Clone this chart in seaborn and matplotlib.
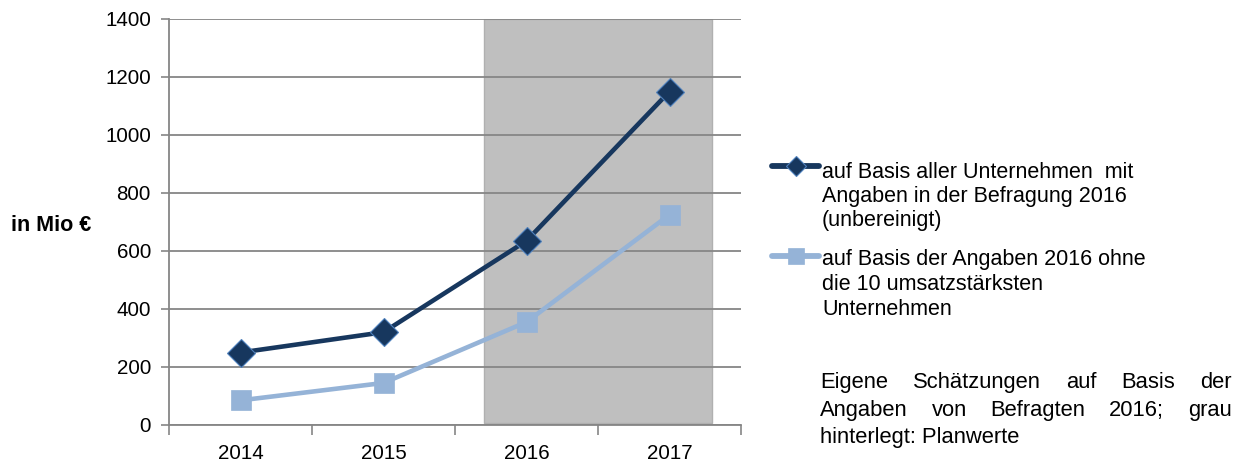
import matplotlib
matplotlib.use("Agg")
import matplotlib.pyplot as plt
import seaborn as sns
import pandas as pd
from matplotlib.ticker import FixedLocator, NullFormatter

years = ["2014", "2015", "2016", "2017"]
alle_unternehmen = [250, 320, 635, 1150]
ohne_top10 = [85, 145, 355, 725]
y_ticks = [0, 200, 400, 600, 800, 1000, 1200, 1400]
label_alle = ["auf Basis aller Unternehmen  mit",
              "Angaben in der Befragung 2016",
              "(unbereinigt)"]
label_ohne = ["auf Basis der Angaben 2016 ohne",
              "die 10 umsatzstärksten",
              "Unternehmen"]
note_lines = ["Eigene Schätzungen auf Basis der",
              "Angaben von Befragten 2016; grau",
              "hinterlegt: Planwerte"]

sns.set_theme(style="white")
plt.rcParams["font.family"] = ["Liberation Sans", "DejaVu Sans"]
plt.rcParams["text.color"] = "black"

W, H = 1240, 462
fig = plt.figure(figsize=(W / 100, H / 100), dpi=100)
ax = fig.add_axes([169 / W, 1 - 425 / H, (741 - 169) / W, (425 - 19) / H])

pos = list(range(len(years)))
df = pd.DataFrame({"pos": pos * 2,
                   "wert": alle_unternehmen + ohne_top10,
                   "serie": ["alle"] * 4 + ["ohne"] * 4})

dark = "#17375E"
light = "#95B3D7"

# planned values shaded in grey
ax.axvspan(1.70, 3.30, ymin=0.006, ymax=1.0, facecolor="#BFBFBF",
           edgecolor="#B0B0B0", linewidth=1.0, zorder=0)

sns.lineplot(data=df[df.serie == "alle"], x="pos", y="wert", ax=ax,
             color=dark, linewidth=3.3, marker="D", markersize=14,
             markeredgecolor="#4F81BD", markeredgewidth=0.8, zorder=4,
             label=label_alle[0])
sns.lineplot(data=df[df.serie == "ohne"], x="pos", y="wert", ax=ax,
             color=light, linewidth=3.3, marker="s", markersize=15,
             markeredgecolor=light, markeredgewidth=0.5, zorder=3,
             label=label_ohne[0])

ax.set_xlim(-0.5, 3.5)
ax.set_ylim(0, 1400)
ax.set_yticks(y_ticks)
ax.set_yticklabels([str(v) for v in y_ticks])
ax.set_xticks(pos)
ax.set_xticklabels(years)
ax.xaxis.set_minor_locator(FixedLocator([-0.5, 0.5, 1.5, 2.5, 3.5]))
ax.xaxis.set_minor_formatter(NullFormatter())
ax.set_xlabel("")
ax.set_ylabel("")

grid_c = "#868686"
ax.grid(axis="y", color=grid_c, linewidth=1.3, zorder=1)
ax.set_axisbelow(False)
for gl in ax.get_ygridlines():
    gl.set_zorder(1)
for s in ["top", "right"]:
    ax.spines[s].set_visible(False)
for s in ["left", "bottom"]:
    ax.spines[s].set_color(grid_c)
    ax.spines[s].set_linewidth(1.3)

ax.tick_params(axis="y", which="major", direction="out", length=6, width=1.2,
               color=grid_c, labelsize=14.8, labelcolor="black", pad=7, left=True)
ax.tick_params(axis="x", which="major", length=0, labelsize=14.8,
               labelcolor="black", pad=14)
ax.tick_params(axis="x", which="minor", direction="out", length=7, width=1.2,
               color=grid_c, bottom=True)

fig.text(11 / W, 1 - 231 / H, "in Mio €", fontsize=15.5, fontweight="bold",
         ha="left", va="baseline")

# legend: handles come from the seaborn lines, each entry anchored on its first line
handles, labels = ax.get_legend_handles_labels()
if ax.get_legend() is not None:
    ax.get_legend().remove()
leg_fs = 15.5
entry_specs = [(handles[0], label_alle, [178, 202, 226], 168, 10),
               (handles[1], label_ohne, [265, 290, 315], 258, 11.5)]
for h, lines, baselines, hy, ms in entry_specs:
    leg = fig.legend([h], [" "], loc="center left",
                     bbox_to_anchor=(772 / W, 1 - hy / H),
                     frameon=False, fontsize=leg_fs, handlelength=2.2,
                     handletextpad=0.0, borderaxespad=0, borderpad=0)
    for ln in leg.get_lines():
        ln.set_linewidth(4.2)
        ln.set_markersize(ms)
    for line, b in zip(lines, baselines):
        fig.text(822 / W, 1 - b / H, line, fontsize=leg_fs, ha="left", va="baseline")

# justified note text
fig.canvas.draw()
renderer = fig.canvas.get_renderer()
left_px, right_px = 820, 1232
note_fs = 15.8
baselines = [388, 416, 443]
for i, line in enumerate(note_lines):
    words = line.split(" ")
    y = 1 - baselines[i] / H
    if i == len(note_lines) - 1:
        fig.text(left_px / W, y, line, fontsize=note_fs, ha="left", va="baseline")
        continue
    arts = [fig.text(0, y, w, fontsize=note_fs, ha="left", va="baseline") for w in words]
    widths = [a.get_window_extent(renderer).width for a in arts]
    gap = (right_px - left_px - sum(widths)) / (len(words) - 1)
    x = left_px
    for a, w in zip(arts, widths):
        a.set_x(x / W)
        x += w + gap

fig.savefig("out.png", dpi=100)
